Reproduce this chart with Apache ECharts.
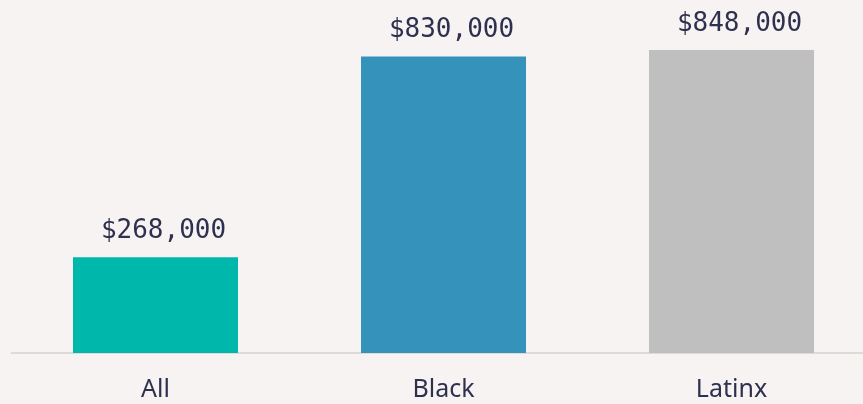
<!DOCTYPE html>
<html>
<head>
<meta charset="utf-8">
<script src="https://cdn.jsdelivr.net/npm/echarts@6/dist/echarts.min.js"></script>
<style>
  html, body { margin: 0; padding: 0; background: #f7f3f2; overflow: hidden; }
  #chart { width: 876px; height: 404px; }
</style>
</head>
<body>
<div id="chart"></div>
<script>
const categories = ['All', 'Black', 'Latinx']
const values = [268000, 830000, 848000]
const barColors = ['#00b7ac', '#3593bb', '#bfbfbf']

const chart = echarts.init(document.getElementById('chart'))

chart.setOption({
  backgroundColor: '#f7f3f2',
  animation: false,
  grid: {
    left: 11.5,
    right: 0.5,
    top: 50,
    bottom: 51,
    containLabel: false
  },
  xAxis: {
    type: 'category',
    data: categories,
    axisLine: { lineStyle: { color: '#dddad8', width: 2 } },
    axisTick: { show: false },
    axisLabel: {
      color: '#2e3050',
      fontFamily: 'Noto Sans',
      fontSize: 25,
      margin: 24
    }
  },
  yAxis: {
    type: 'value',
    min: 0,
    max: 'dataMax',
    show: false,
    splitLine: { show: false }
  },
  series: [
    {
      type: 'bar',
      barWidth: 165,
      data: values.map((v, i) => ({ value: v, itemStyle: { color: barColors[i] } })),
      label: {
        show: true,
        position: 'top',
        distance: 13,
        offset: [8, 0],
        color: '#2e3050',
        fontFamily: 'DejaVu Sans Mono',
        fontSize: 26,
        formatter: p => '$' + p.value.toLocaleString('en-US')
      }
    }
  ]
})
</script>
</body>
</html>
